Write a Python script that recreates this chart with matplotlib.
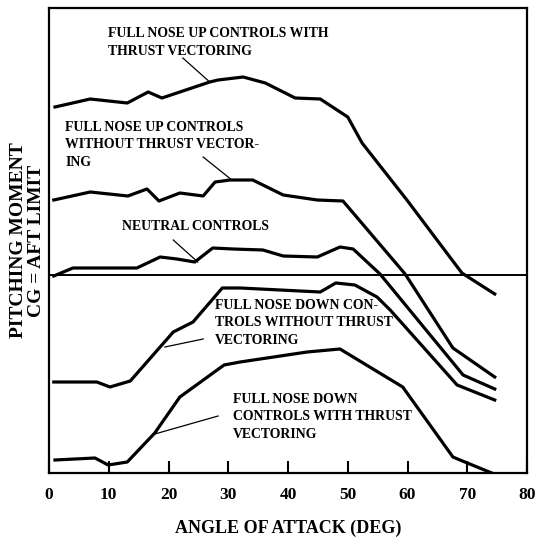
import numpy as np
import matplotlib
matplotlib.use('Agg')
import matplotlib.pyplot as plt

# angle of attack (deg) and pitching moment (arbitrary units, 0 = trim line)
aoa_up_tv = [1.0, 6.9, 13.1, 16.6, 18.9, 26.9, 28.3, 32.5, 36.2, 41.2, 45.4, 50.0, 52.4, 59.9, 69.1, 74.6]
cm_up_tv = [16.8, 17.6, 17.2, 18.3, 17.7, 19.3, 19.5, 19.8, 19.2, 17.7, 17.6, 15.8, 13.2, 7.5, 0.2, -1.9]

aoa_up = [0.8, 6.9, 13.2, 16.4, 18.4, 21.9, 25.8, 27.8, 30.3, 34.1, 39.2, 44.9, 49.2, 59.6, 67.6, 74.6]
cm_up = [7.5, 8.3, 7.9, 8.6, 7.4, 8.2, 7.9, 9.3, 9.5, 9.5, 8.0, 7.5, 7.4, 0.1, -7.3, -10.2]

aoa_neu = [0.8, 4.0, 14.7, 18.6, 21.4, 24.4, 27.4, 30.8, 35.8, 39.2, 44.9, 48.7, 50.9, 55.4, 69.3, 74.6]
cm_neu = [-0.1, 0.7, 0.7, 1.8, 1.6, 1.3, 2.7, 2.6, 2.5, 1.9, 1.8, 2.8, 2.6, 0.1, -10.0, -11.4]

aoa_dn = [0.8, 8.0, 10.2, 13.6, 20.8, 24.1, 29.0, 32.0, 45.4, 48.0, 51.2, 54.9, 57.1, 68.3, 74.6]
cm_dn = [-10.7, -10.7, -11.2, -10.6, -5.7, -4.7, -1.3, -1.3, -1.7, -0.8, -1.0, -2.2, -3.5, -11.0, -12.5]

aoa_dn_tv = [1.0, 7.7, 9.9, 13.1, 17.7, 21.9, 29.3, 32.0, 43.2, 48.7, 59.2, 67.6, 69.6, 74.1]
cm_dn_tv = [-18.5, -18.3, -19.0, -18.7, -15.8, -12.2, -9.0, -8.7, -7.7, -7.4, -11.2, -18.2, -18.7, -19.8]

x_ticks = [0, 10, 20, 30, 40, 50, 60, 70, 80]

# label text, anchor (left, middle), leader line end points
labels = [
    ("FULL NOSE UP CONTROLS WITH\nTHRUST VECTORING", (9.9, 23.25), [(22.4, 26.9), (21.7, 19.3)]),
    ("FULL NOSE UP CONTROLS\nWITHOUT THRUST VECTOR-\nING", (2.7, 13.0), [(25.8, 30.6), (11.8, 9.5)]),
    ("NEUTRAL CONTROLS", (12.2, 4.8), [(20.8, 24.9), (3.5, 1.3)]),
    ("FULL NOSE DOWN CON-\nTROLS WITHOUT THRUST\nVECTORING", (27.8, -4.8), [(25.8, 19.4), (-6.4, -7.2)]),
    ("FULL NOSE DOWN\nCONTROLS WITH THRUST\nVECTORING", (30.8, -14.2), [(28.3, 17.7), (-14.1, -15.9)]),
]

plt.rcParams['font.family'] = ['Liberation Serif', 'DejaVu Serif']
plt.rcParams['font.weight'] = 'bold'

fig = plt.figure(figsize=(5.37, 5.40), dpi=100, facecolor='white')
ax = fig.add_axes([49/537, 1 - 473/540, (527-49)/537, (473-8)/540])

for xs, ys in [(aoa_up_tv, cm_up_tv), (aoa_up, cm_up), (aoa_neu, cm_neu),
               (aoa_dn, cm_dn), (aoa_dn_tv, cm_dn_tv)]:
    ax.plot(xs, ys, '-', color='black', lw=2.3, solid_joinstyle='round')

ax.axhline(0, color='black', lw=1.4)

for txt, (tx, ty), (lx, ly) in labels:
    ax.text(tx, ty, txt, ha='left', va='center', fontsize=9.9,
            fontweight='bold', linespacing=1.45)
    ax.plot(lx, ly, '-', color='black', lw=0.9)

ax.set_xlim(0, 80)
ax.set_ylim(-19.8, 26.7)
ax.set_xticks(x_ticks)
ax.set_yticks([])
ax.tick_params(axis='x', direction='in', length=9, width=1.5, pad=10,
               labelsize=12.5, top=False)
for sp in ax.spines.values():
    sp.set_linewidth(1.6)

ax.set_xlabel("ANGLE OF ATTACK (DEG)", fontsize=13, fontweight='bold', labelpad=12)
ax.set_ylabel("PITCHING MOMENT\nCG = AFT LIMIT", fontsize=14, fontweight='bold',
              labelpad=3, linespacing=1.1)

fig.savefig('out.png', dpi=100, facecolor='white')
